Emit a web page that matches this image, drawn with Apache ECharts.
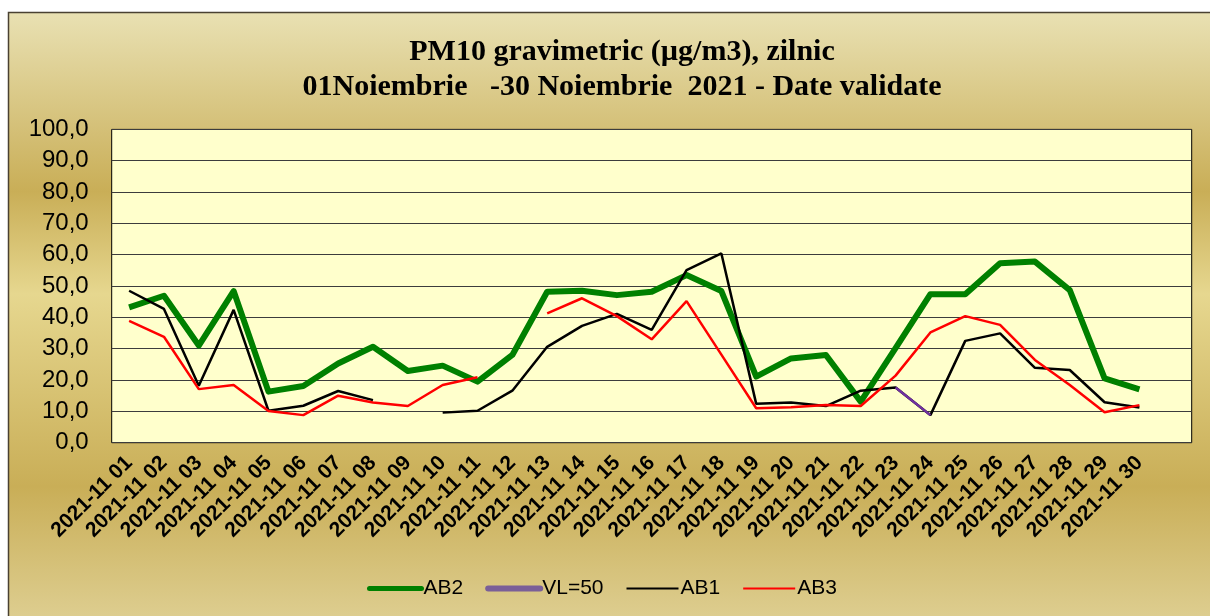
<!DOCTYPE html>
<html>
<head>
<meta charset="utf-8">
<script src="https://cdn.jsdelivr.net/npm/echarts@6/dist/echarts.min.js"></script>
<style>html,body{margin:0;padding:0;background:#fff;}#c{width:1210px;height:616px;}</style>
</head>
<body>
<div id="c"></div>
<script>
const categories = ['2021-11 01','2021-11 02','2021-11 03','2021-11 04','2021-11 05','2021-11 06','2021-11 07','2021-11 08','2021-11 09','2021-11 10','2021-11 11','2021-11 12','2021-11 13','2021-11 14','2021-11 15','2021-11 16','2021-11 17','2021-11 18','2021-11 19','2021-11 20','2021-11 21','2021-11 22','2021-11 23','2021-11 24','2021-11 25','2021-11 26','2021-11 27','2021-11 28','2021-11 29','2021-11 30',''];
const ab2 = [43.2,46.9,31.0,48.4,16.3,18.1,25.3,30.6,22.9,24.6,19.5,28.0,48.2,48.5,47.1,48.2,53.5,48.4,21.1,26.9,28.0,13.1,30.2,47.4,47.4,57.3,57.8,48.7,20.5,17.0];
const vl50 = [null,null,null,null,null,null,null,null,null,null,null,null,null,null,null,null,null,null,null,null,null,null,17.6,8.8,null,null,null,null,null,null];
const ab1 = [48.5,42.7,18.2,42.4,10.2,11.8,16.5,13.6,null,9.6,10.2,16.6,30.6,37.3,41.1,36.0,55.1,60.4,12.4,12.8,11.7,16.6,17.6,8.8,32.5,34.9,23.9,23.2,12.9,11.2];
const ab3 = [38.9,33.8,17.1,18.4,10.1,8.8,15.0,12.8,11.7,18.4,20.9,null,41.3,46.1,40.4,33.0,45.2,28.1,11.0,11.3,12.0,11.7,21.4,35.2,40.4,37.6,26.4,18.4,9.7,12.0];
const yTicks = {min:0, max:100, interval:10};

const chart = echarts.init(document.getElementById('c'), null, {renderer:'canvas'});
chart.setOption({
  animation:false,
  backgroundColor:'#ffffff',
  graphic:[{
    type:'rect', z:-10, silent:true,
    shape:{x:8.5,y:12.5,width:1220,height:640},
    style:{
      fill:new echarts.graphic.LinearGradient(0,0,0,1,[
        {offset:0,color:'#e9e1b3'},
        {offset:0.28,color:'#c9ae57'},
        {offset:0.44,color:'#e6d78f'},
        {offset:0.74,color:'#c9ae57'},
        {offset:1,color:'#e3d69f'}
      ]),
      stroke:'#4a4132', lineWidth:1.5
    }
  }],
  title:{
    text:'PM10 gravimetric (µg/m3), zilnic\n01Noiembrie   -30 Noiembrie  2021 - Date validate',
    left:617, top:30, textAlign:'center',
    textStyle:{fontFamily:'Liberation Serif', fontWeight:'bold', fontSize:30, color:'#000', lineHeight:35}
  },
  legend:{
    data:[
      {name:'AB2', lineStyle:{color:'#008000', width:5, cap:'round'}},
      {name:'VL=50', lineStyle:{color:'#7a5f98', width:6, cap:'round'}},
      {name:'AB1', lineStyle:{color:'#000000', width:2}},
      {name:'AB3', lineStyle:{color:'#ff0000', width:2}}
    ],
    itemStyle:{opacity:0},
    left:362, top:573, itemWidth:52, itemHeight:14, itemGap:22,
    textStyle:{fontFamily:'Liberation Sans', fontSize:21, color:'#000', padding:[0,0,0,-3]}
  },
  grid:{left:111.7, right:18.3, top:129.4, bottom:173.3, show:true, backgroundColor:'#ffffcc', borderColor:'#000', borderWidth:1},
  xAxis:{
    type:'category', data:categories, boundaryGap:true,
    axisLine:{show:false}, axisTick:{show:false},
    axisLabel:{interval:0, rotate:45, margin:17, fontFamily:'Liberation Sans', fontWeight:'bold', fontSize:21, color:'#000'}
  },
  yAxis:{
    type:'value', min:yTicks.min, max:yTicks.max, interval:yTicks.interval,
    axisLine:{show:false}, axisTick:{show:false},
    splitLine:{lineStyle:{color:'#3c3c3c', width:1.2}},
    axisLabel:{margin:23, fontFamily:'Liberation Sans', fontSize:24, color:'#000',
      formatter:v=>v.toFixed(1).replace('.',',')}
  },
  series:[
    {name:'AB2', type:'line', data:ab2, symbol:'none', z:2, lineStyle:{color:'#008000', width:6, join:'round'}, itemStyle:{color:'#008000'}},
    {name:'VL=50', type:'line', data:vl50, symbol:'none', z:5, lineStyle:{color:'#7030a0', width:2.5}, itemStyle:{color:'#7030a0'}},
    {name:'AB1', type:'line', data:ab1, symbol:'none', z:3, lineStyle:{color:'#000000', width:2.5}, itemStyle:{color:'#000'}},
    {name:'AB3', type:'line', data:ab3, symbol:'none', z:4, lineStyle:{color:'#ff0000', width:2.5}, itemStyle:{color:'#ff0000'}}
  ]
});
</script>
</body>
</html>
